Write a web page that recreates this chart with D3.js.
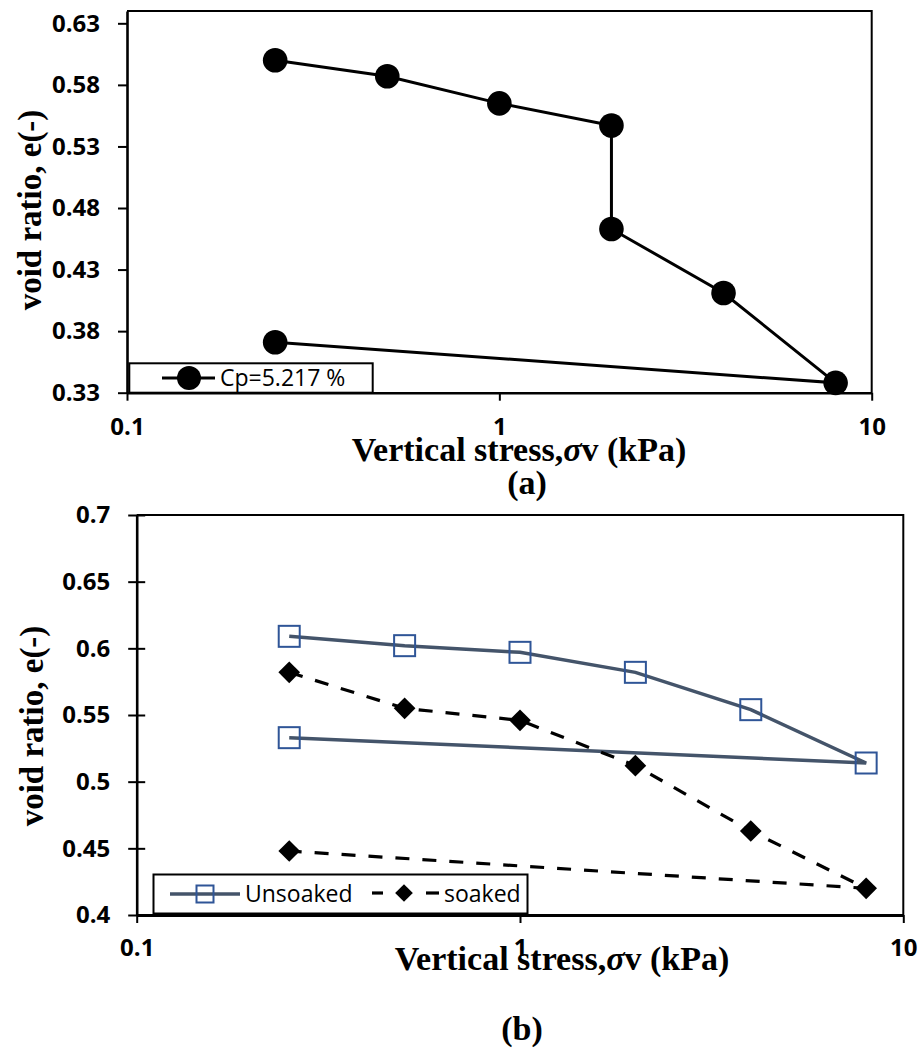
<!DOCTYPE html>
<html>
<head>
<meta charset="utf-8">
<script src="https://cdn.jsdelivr.net/npm/d3@7"></script>
<style>
  body { margin: 0; background: #fff; }
  svg { display: block; }
  .tick text { font-family: "Open Sans", sans-serif; font-weight: bold; font-size: 24px; fill: #000; }
  .tick line { stroke: #000; stroke-width: 2; }
  .title { font-family: "Liberation Serif", serif; font-weight: bold; font-size: 34px; fill: #000; }
  .ytitle { font-size: 33px; }
  .legend-text { font-family: "Open Sans", sans-serif; font-size: 23px; fill: #000; }
</style>
</head>
<body>
<svg width="918" height="1052"></svg>
<script>
// chart (a): one loading / unloading path
const stressA = [0.25, 0.5, 1, 2, 2, 4, 8, 0.25];
const voidA = [0.600, 0.587, 0.565, 0.547, 0.463, 0.411, 0.338, 0.371];
const legendA = "Cp=5.217 %";
const yTicksA = [0.33, 0.38, 0.43, 0.48, 0.53, 0.58, 0.63];

// chart (b): unsoaked vs soaked
const stressB = [0.25, 0.5, 1, 2, 4, 8, 0.25];
const unsoaked = [0.609, 0.602, 0.597, 0.582, 0.554, 0.514, 0.533];
const soaked = [0.582, 0.555, 0.546, 0.512, 0.463, 0.420, 0.448];
const yTicksB = [0.4, 0.45, 0.5, 0.55, 0.6, 0.65, 0.7];

const xTicks = [0.1, 1, 10];
const yTitle = "void ratio, e(-)";

const svg = d3.select("svg");

svg.append("rect").attr("width", 918).attr("height", 1052).attr("fill", "#fff");

const zipPts = (xs, ys) => xs.map((x, i) => ({ x: x, y: ys[i] }));

// x title with the italic sigma
const addXTitle = (x, y) => {
  const t = svg.append("text").attr("class", "title")
    .attr("x", x).attr("y", y).attr("text-anchor", "middle");
  t.append("tspan").text("Vertical stress,");
  t.append("tspan").attr("font-style", "italic").text("σ");
  t.append("tspan").text("v (kPa)");
};

// ---------- chart (a) ----------
const xA = d3.scaleLog().domain([0.1, 10]).range([127, 871.7]);
const yA = d3.scaleLinear().domain([0.33, 0.64]).range([392.7, 11]);

// frame
svg.append("path")
  .attr("d", `M${xA(0.1)},${yA(0.64)}H${xA(10)}V${yA(0.33)}`)
  .attr("fill", "none")
  .attr("stroke", "#000")
  .attr("stroke-width", 2);

//prettier-ignore
const axisYA = svg.append("g")
  .attr("transform", `translate(${xA(0.1)},0)`)
  .call(d3.axisLeft(yA).tickValues(yTicksA).tickSize(9).tickSizeOuter(0)
    .tickPadding(18).tickFormat(d3.format(".2f")));

//prettier-ignore
const axisXA = svg.append("g")
  .attr("transform", `translate(0,${yA(0.33)})`)
  .call(d3.axisBottom(xA).tickValues(xTicks).tickSize(8).tickSizeOuter(0)
    .tickPadding(17).tickFormat(d => d));

axisYA.select(".domain").attr("stroke", "#000").attr("stroke-width", 2.6);
axisXA.select(".domain").attr("stroke", "#000").attr("stroke-width", 2.6);

const ptsA = zipPts(stressA, voidA);

//prettier-ignore
svg.append("path")
  .datum(ptsA)
  .attr("fill", "none")
  .attr("stroke", "#000")
  .attr("stroke-width", 3)
  .attr("d", d3.line().x(d => xA(d.x)).y(d => yA(d.y)));

//prettier-ignore
svg.selectAll("circle.pa")
  .data(ptsA)
  .enter()
  .append("circle")
  .attr("class", "pa")
  .attr("cx", d => xA(d.x))
  .attr("cy", d => yA(d.y))
  .attr("r", 12.3)
  .attr("fill", "#000");

// legend (a)
svg.append("rect")
  .attr("x", 129.3).attr("y", 363.3)
  .attr("width", 243.4).attr("height", 29.4)
  .attr("fill", "#fff").attr("stroke", "#000").attr("stroke-width", 2);
svg.append("line")
  .attr("x1", 162).attr("x2", 215).attr("y1", 378).attr("y2", 378)
  .attr("stroke", "#000").attr("stroke-width", 3);
svg.append("circle").attr("cx", 189).attr("cy", 378).attr("r", 12).attr("fill", "#000");
svg.append("text").attr("class", "legend-text")
  .attr("x", 220).attr("y", 386).text(legendA);

addXTitle(519, 461);
svg.append("text").attr("class", "title")
  .attr("x", 527).attr("y", 494).attr("text-anchor", "middle").text("(a)");
svg.append("text").attr("class", "title ytitle")
  .attr("transform", "translate(41,210) rotate(-90)")
  .attr("text-anchor", "middle").text(yTitle);

// ---------- chart (b) ----------
const xB = d3.scaleLog().domain([0.1, 10]).range([136.7, 903.3]);
const yB = d3.scaleLinear().domain([0.4, 0.7]).range([915, 515]);

svg.append("path")
  .attr("d", `M${xB(0.1)},${yB(0.7)}H${xB(10)}V${yB(0.4)}`)
  .attr("fill", "none")
  .attr("stroke", "#000")
  .attr("stroke-width", 2);

//prettier-ignore
const axisYB = svg.append("g")
  .attr("transform", `translate(${xB(0.1)},0)`)
  .call(d3.axisLeft(yB).tickValues(yTicksB).tickSize(8.5).tickSizeOuter(0)
    .tickPadding(18).tickFormat(d => String(d)));

// ticks cross the axis
axisYB.selectAll(".tick line").attr("x1", 8.5);

//prettier-ignore
const axisXB = svg.append("g")
  .attr("transform", `translate(0,${yB(0.4)})`)
  .call(d3.axisBottom(xB).tickValues(xTicks).tickSize(8).tickSizeOuter(0)
    .tickPadding(16).tickFormat(d => d));

axisYB.select(".domain").attr("stroke", "#000").attr("stroke-width", 2.6);
axisXB.select(".domain").attr("stroke", "#000").attr("stroke-width", 3);

const ptsU = zipPts(stressB, unsoaked);
const ptsS = zipPts(stressB, soaked);
const lineB = d3.line().x(d => xB(d.x)).y(d => yB(d.y));

//prettier-ignore
svg.append("path")
  .datum(ptsU)
  .attr("fill", "none")
  .attr("stroke", "#44546A")
  .attr("stroke-width", 3.5)
  .attr("d", lineB);

//prettier-ignore
svg.append("path")
  .datum(ptsS)
  .attr("fill", "none")
  .attr("stroke", "#000")
  .attr("stroke-width", 3.2)
  .attr("stroke-dasharray", "14,13")
  .attr("d", lineB);

//prettier-ignore
svg.selectAll("rect.pu")
  .data(ptsU)
  .enter()
  .append("rect")
  .attr("class", "pu")
  .attr("x", d => xB(d.x) - 10.5)
  .attr("y", d => yB(d.y) - 10.5)
  .attr("width", 21)
  .attr("height", 21)
  .attr("fill", "none")
  .attr("stroke", "#2F5597")
  .attr("stroke-width", 2);

const diamond = d3.symbol().type(d3.symbolDiamond2).size(300);

//prettier-ignore
svg.selectAll("path.ps")
  .data(ptsS)
  .enter()
  .append("path")
  .attr("class", "ps")
  .attr("transform", d => `translate(${xB(d.x)},${yB(d.y)})`)
  .attr("d", diamond)
  .attr("fill", "#000");

// legend (b)
svg.append("rect")
  .attr("x", 153.5).attr("y", 874.5)
  .attr("width", 374).attr("height", 39)
  .attr("fill", "#fff").attr("stroke", "#000").attr("stroke-width", 2);
svg.append("line")
  .attr("x1", 170).attr("x2", 240).attr("y1", 894).attr("y2", 894)
  .attr("stroke", "#44546A").attr("stroke-width", 3.5);
svg.append("rect")
  .attr("x", 196.5).attr("y", 885.5).attr("width", 17).attr("height", 17)
  .attr("fill", "none").attr("stroke", "#2F5597").attr("stroke-width", 2);
svg.append("text").attr("class", "legend-text")
  .attr("x", 245).attr("y", 902).text("Unsoaked");
[[372, 383], [426, 439]].forEach(s => {
  svg.append("line")
    .attr("x1", s[0]).attr("x2", s[1]).attr("y1", 893).attr("y2", 893)
    .attr("stroke", "#000").attr("stroke-width", 3.2);
});
svg.append("path")
  .attr("transform", "translate(404,893)")
  .attr("d", d3.symbol().type(d3.symbolDiamond2).size(200))
  .attr("fill", "#000");
svg.append("text").attr("class", "legend-text")
  .attr("x", 444).attr("y", 902).text("soaked");

addXTitle(562, 970);
svg.append("text").attr("class", "title")
  .attr("x", 522).attr("y", 1040).attr("text-anchor", "middle").text("(b)");
svg.append("text").attr("class", "title ytitle")
  .attr("transform", "translate(43,726) rotate(-90)")
  .attr("text-anchor", "middle").text(yTitle);
</script>
</body>
</html>
